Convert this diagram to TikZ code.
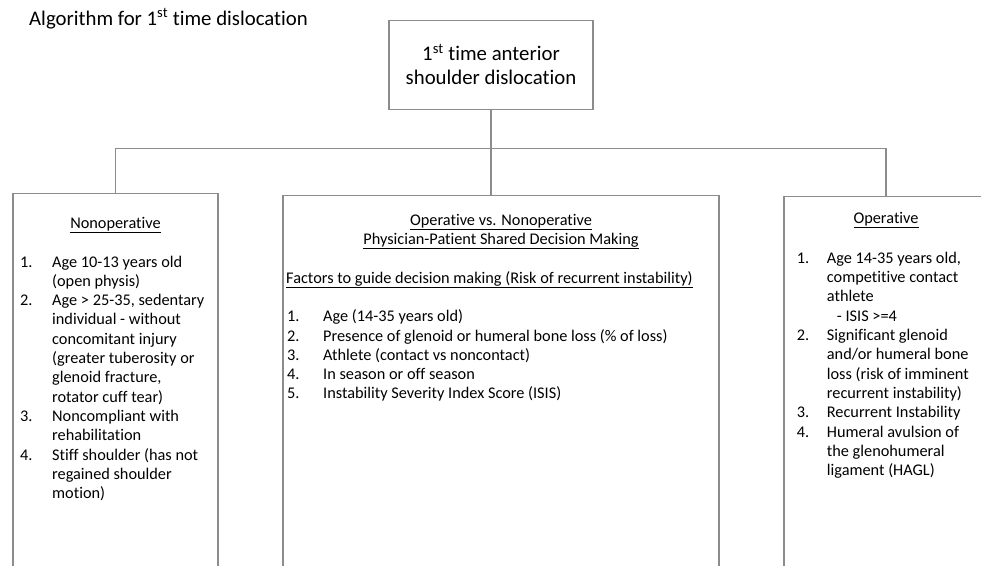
\documentclass[tikz,border=0pt]{standalone}
\usepackage{fontspec}
\setmainfont[Ligatures=NoCommon]{Carlito}
\usetikzlibrary{positioning}

\tikzset{
	boxline/.style={draw=black!45, line width=1.2pt},
	colbox/.style={rectangle, boxline, anchor=north, minimum height=420pt, inner sep=0pt},
	bigtext/.style={font=\fontsize{20.8}{24}\selectfont},
	smalltext/.style={font=\fontsize{16.3}{19.3}\selectfont, inner sep=0pt}
}

\begin{document}
\begin{tikzpicture}[x=1pt, y=-1pt]
		\clip (0,0) rectangle (981,565);

		\node[bigtext, anchor=base west, inner sep=0pt] (title) at (29,25.5) {Algorithm for 1\textsuperscript{st} time dislocation};

		\node[
			rectangle, boxline, bigtext, align=center,
			minimum width=204pt, minimum height=89pt
		] (first) at (491,64.7) {1\textsuperscript{st} time anterior\\shoulder dislocation};

		% three columns
		\node[colbox, minimum width=205pt] (nonop) at (115.5,193) {};
		\node[colbox, minimum width=436pt] (shared) at (501,195) {};
		\node[colbox, minimum width=204pt] (op) at (886,195.7) {};

		\coordinate (split) at (491.7,148.7);
		\draw[boxline] (first.south) -- (first.south |- shared.north);
		\draw[boxline] (nonop.north) |- (split) -| (op.north);

		% nonoperative
		\node[smalltext, anchor=base] (nonophead) at (115.5,228) {\underline{Nonoperative}};
		\node[smalltext, anchor=base west] (nonoplist) at (20,267) {\begin{tabular}[t]{@{}p{32pt}@{}l@{}}
			1. & Age 10-13 years old\\
			   & (open physis)\\
			2. & Age > 25-35, sedentary\\
			   & individual - without\\
			   & concomitant injury\\
			   & (greater tuberosity or\\
			   & glenoid fracture,\\
			   & rotator cuff tear)\\
			3. & Noncompliant with\\
			   & rehabilitation\\
			4. & Stiff shoulder (has not\\
			   & regained shoulder\\
			   & motion)
		\end{tabular}};

		% shared decision
		\node[smalltext, anchor=base] (sharedhead) at (501,225) {\begin{tabular}[t]{@{}c@{}}
			\underline{Operative vs. Nonoperative}\\
			\underline{Physician-Patient Shared Decision Making}
		\end{tabular}};
		\node[smalltext, anchor=base west] (factors) at (286,283.3) {\underline{Factors to guide decision making (Risk of recurrent instability)}};
		\node[smalltext, anchor=base west] (sharedlist) at (287,321.7) {\begin{tabular}[t]{@{}p{36pt}@{}l@{}}
			1. & Age (14-35 years old)\\
			2. & Presence of glenoid or humeral bone loss (\% of loss)\\
			3. & Athlete (contact vs noncontact)\\
			4. & In season or off season\\
			5. & Instability Severity Index Score (ISIS)
		\end{tabular}};

		% operative
		\node[smalltext, anchor=base] (ophead) at (886,223.3) {\underline{Operative}};
		\node[smalltext, anchor=base west] (oplist) at (796.7,263.3) {\begin{tabular}[t]{@{}p{30pt}@{}l@{}}
			1. & Age 14-35 years old,\\
			   & competitive contact\\
			   & athlete\\
			   & \hspace{10pt}- ISIS >=4\\
			2. & Significant glenoid\\
			   & and/or humeral bone\\
			   & loss (risk of imminent\\
			   & recurrent instability)\\
			3. & Recurrent Instability\\
			4. & Humeral avulsion of\\
			   & the glenohumeral\\
			   & ligament (HAGL)
		\end{tabular}};
	\end{tikzpicture}
\end{document}
